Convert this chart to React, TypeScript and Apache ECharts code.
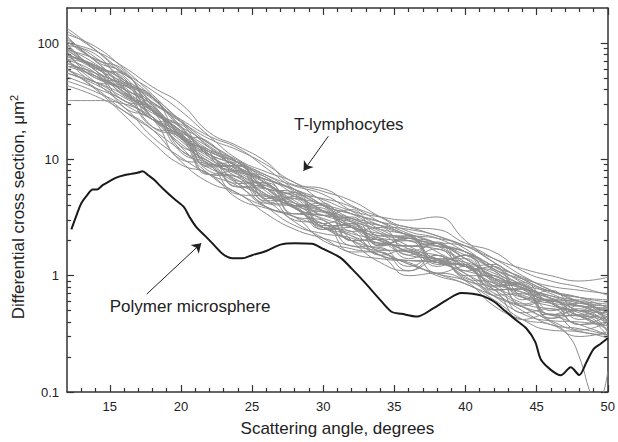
import React, { useEffect, useRef } from 'react';
import * as echarts from 'echarts';

const FONT = '"Liberation Sans", Arial, sans-serif';

// Scattering angles (degrees) sampled for the T-lymphocyte curves
const ANGLES = [12, 14, 16, 18, 20, 22, 24, 26, 28, 30, 32, 34, 36, 38, 40, 42, 44, 46, 48, 50];

// T-lymphocytes: differential cross section (µm²) for each cell
const T_CELLS: number[][] = [
  [103, 72, 58, 26, 19, 8.6, 8.8, 5.6, 5.2, 2.7, 2.7, 1.8, 2.2, 1.4, 1.4, 0.82, 0.88, 0.6, 0.62, 0.4],
  [55, 46, 36, 26, 19, 13.6, 9.4, 5.6, 3.8, 3.3, 3.1, 2.7, 2.2, 1.6, 1.2, 0.86, 0.72, 0.64, 0.45, 0.35],
  [126, 87, 56, 39, 26, 15.8, 10, 7.8, 6.3, 4.3, 3.1, 2.7, 2.5, 2.2, 1.7, 1.14, 0.94, 0.81, 0.75, 0.70],
  [47, 38, 28, 15.6, 10.4, 7.4, 5.9, 3.9, 2.7, 2.3, 2.1, 1.6, 1.26, 1.04, 0.91, 0.71, 0.50, 0.38, 0.35, 0.31],
  [79, 64, 48, 34, 19, 10.5, 7.0, 5.6, 5.0, 4.6, 3.9, 2.9, 2.2, 1.8, 1.6, 1.2, 0.86, 0.58, 0.45, 0.44],
  [32, 32, 30, 22, 14.4, 8.9, 6.2, 4.8, 3.8, 2.6, 2.0, 1.7, 1.6, 1.5, 1.2, 0.81, 0.58, 0.52, 0.5, 0.40],
  [134, 87, 52, 31, 21, 12.6, 8.6, 6.7, 5.5, 4.0, 2.9, 2.1, 2.0, 1.9, 1.4, 0.95, 0.65, 0.55, 0.5, 0.48],
  [71, 55, 28, 22, 10, 9.0, 5.8, 5.6, 3.2, 3.0, 1.8, 1.75, 1.2, 1.5, 0.95, 0.86, 0.48, 0.52, 0.38, 0.4],
  [95, 58, 36, 26, 17.6, 10.5, 6.2, 3.9, 3.4, 3.3, 2.9, 2.1, 1.6, 1.3, 1.1, 0.95, 0.79, 0.58, 0.45, 0.37],
  [63, 52, 40, 29, 16, 9.5, 7.8, 6.7, 5.5, 4.0, 2.6, 1.9, 1.8, 1.9, 1.8, 1.4, 1.0, 0.75, 0.6, 0.48],
  [87, 62, 50, 23, 15.5, 7.4, 8.0, 4.9, 4.6, 2.5, 2.6, 1.85, 2.1, 1.3, 1.25, 0.68, 0.7, 0.46, 0.5, 0.33],
  [59, 46, 34, 25, 17.6, 12.6, 8.6, 5.3, 3.8, 3.1, 2.6, 2.3, 2.1, 1.8, 1.3, 0.90, 0.72, 0.61, 0.55, 0.53],
  [111, 70, 44, 31, 22, 15.8, 12.5, 8.4, 5.5, 4.0, 3.4, 2.9, 2.3, 1.9, 1.6, 1.2, 0.97, 0.75, 0.6, 0.55],
  [75, 64, 37, 26, 11.5, 9.0, 5.0, 4.8, 3.0, 2.8, 1.6, 1.6, 1.1, 1.35, 0.92, 0.76, 0.42, 0.47, 0.34, 0.4],
  [87, 58, 38, 27, 16, 11.6, 9.4, 6.2, 4.2, 3.6, 3.1, 2.4, 1.8, 1.4, 1.2, 1.0, 0.79, 0.67, 0.55, 0.46],
  [67, 55, 44, 33, 19.2, 11, 7.4, 5.0, 4.2, 3.6, 2.7, 2.0, 1.5, 1.4, 1.3, 1.05, 0.83, 0.64, 0.5, 0.42],
  [99, 58, 41, 19, 15.5, 8.8, 8.8, 4.4, 3.9, 2.5, 2.8, 1.9, 2.0, 1.25, 1.25, 0.76, 0.76, 0.46, 0.45, 0.3],
  [79, 61, 40, 26, 17.6, 12, 8.6, 6.7, 5.5, 4.5, 3.6, 3.2, 3.0, 3.2, 2.0, 1.3, 0.94, 0.73, 0.65, 0.59],
  [51, 41, 32, 22, 12.8, 7.4, 5.1, 3.9, 3.2, 2.6, 2.0, 1.5, 1.35, 1.3, 0.98, 0.67, 0.54, 0.46, 0.38, 0.31],
  [118, 93, 60, 36, 21, 13, 9.4, 7.3, 5.9, 5.0, 3.6, 2.7, 2.25, 2.1, 1.8, 1.3, 0.94, 0.73, 0.65, 0.62],
  [83, 60, 54, 26, 17, 7.9, 7.0, 4.2, 4.8, 3.3, 3.7, 2.2, 2.2, 1.3, 1.5, 0.92, 0.82, 0.46, 0.55, 0.4],
  [71, 46, 30, 22, 16, 12, 9.8, 6.4, 4.2, 3.0, 2.2, 1.9, 1.8, 1.7, 1.24, 0.81, 0.65, 0.58, 0.55, 0.51],
  [95, 80, 46, 35, 15.5, 11.5, 5.8, 6.0, 4.0, 4.0, 2.0, 2.05, 1.4, 1.7, 1.2, 1.25, 0.66, 0.6, 0.38, 0.45],
  [55, 44, 32, 23, 15.2, 10.5, 8.2, 6.2, 4.4, 3.3, 2.9, 2.5, 2.25, 1.9, 1.4, 1.0, 0.83, 0.73, 0.65, 0.53],
  [91, 61, 46, 34, 21.6, 13.6, 9.4, 6.2, 4.8, 4.1, 3.4, 2.5, 2.0, 1.8, 1.6, 1.1, 0.79, 0.67, 0.6, 0.48],
  [43, 35, 26, 18, 9.6, 6.3, 5.1, 3.4, 2.5, 2.1, 1.8, 1.6, 1.26, 1.04, 0.85, 0.67, 0.54, 0.41, 0.33, 0.31],
  [107, 75, 48, 27, 16, 11, 9.0, 7.0, 5.0, 3.6, 2.6, 2.0, 1.8, 1.8, 1.5, 1.14, 0.9, 0.7, 0.58, 0.55],
  [71, 50, 38, 19, 16.5, 9.2, 8.4, 4.2, 3.9, 2.6, 2.8, 1.65, 1.65, 1.05, 1.2, 0.75, 0.78, 0.43, 0.46, 0.33],
  [79, 64, 48, 29, 16, 11.6, 9.4, 7.3, 5.3, 4.0, 3.4, 2.9, 2.6, 2.2, 1.8, 1.4, 1.15, 1.0, 0.9, 0.97],
  [67, 52, 40, 30, 21, 15, 12, 9.0, 6.3, 5.3, 4.4, 3.2, 2.4, 2.1, 1.6, 1.14, 0.83, 0.64, 0.6, 0.57],
  [59, 41, 26, 18, 12, 8.4, 6.6, 4.5, 2.9, 2.1, 1.56, 1.4, 1.35, 1.36, 1.04, 0.67, 0.47, 0.41, 0.4, 0.37],
  [103, 70, 40, 23, 15.2, 11, 8.6, 5.6, 4.0, 3.5, 3.0, 2.3, 1.7, 1.36, 1.2, 0.95, 0.76, 0.58, 0.48, 0.4],
  [63, 55, 32, 28, 12, 9.6, 6.2, 6.3, 4.0, 3.8, 2.0, 2.05, 1.5, 1.95, 1.2, 1.1, 0.57, 0.63, 0.46, 0.54],
  [87, 73, 54, 34, 18.4, 11, 7.8, 5.9, 4.8, 3.6, 2.6, 2.2, 2.1, 1.9, 1.4, 0.95, 0.68, 0.61, 0.55, 0.44],
  [75, 46, 43, 23, 16.5, 7.4, 7.1, 4.4, 4.6, 2.6, 2.4, 1.5, 1.7, 1.2, 1.5, 0.88, 0.78, 0.43, 0.52, 0.37],
  [60, 40, 24, 14, 9.0, 7.5, 4.6, 3.8, 3.2, 2.0, 1.7, 1.5, 1.0, 1.05, 0.9, 0.55, 0.42, 0.38, 0.30, 0.33],
  [100, 85, 62, 42, 30, 17, 13, 9.5, 6.0, 5.6, 4.0, 3.2, 2.6, 2.5, 1.9, 1.6, 1.1, 0.9, 0.8, 0.68],
  [85, 50, 45, 22, 20, 9.0, 9.5, 4.6, 5.2, 2.8, 3.2, 1.8, 2.1, 1.3, 1.5, 0.8, 0.85, 0.5, 0.58, 0.4],
  [72, 62, 35, 28, 13, 11, 6.5, 6.2, 3.4, 3.6, 2.0, 1.3, 1.1, 1.5, 1.0, 1.0, 0.55, 0.62, 0.42, 0.5],
  [115, 70, 55, 30, 17, 14, 8.0, 7.0, 4.0, 4.2, 2.4, 2.6, 1.6, 1.9, 1.1, 1.2, 0.62, 0.75, 0.5, 0.52],
  [90, 66, 42, 27, 15, 10, 7.6, 5.0, 3.8, 2.6, 2.2, 1.5, 1.3, 1.0, 0.85, 0.62, 0.42, 0.34, 0.33, 0.29],
];

// One T-lymphocyte curve that dips below the axis near 49°
const DIVE_ANGLES = [12, 14, 16, 18, 20, 22, 24, 26, 28, 30, 32, 34, 36, 38, 40, 42, 44, 46, 47.2, 48, 48.75, 49.2, 49.6, 50];
const DIVE_VALUES = [79, 52, 38, 23, 13.6, 9.5, 7.4, 5.6, 3.8, 2.8, 2.3, 2.0, 1.6, 1.36, 1.04, 0.76, 0.54, 0.4, 0.31, 0.2, 0.1, 0.075, 0.09, 0.15];

// Polymer microsphere
const SPHERE_ANGLES = [12.3, 12.7, 13.0, 13.4, 13.8, 14.1, 14.5, 15.0, 15.5, 16.0, 16.5, 17.0, 17.3, 17.7, 18.1, 18.8, 19.5, 20.2, 20.6, 21.1, 21.7, 22.3, 22.9, 23.5, 24.3, 25.0, 26.0, 27.0, 28.0, 29.2, 30.0, 31.2, 32.0, 32.9, 34.0, 34.8, 35.5, 36.6, 37.7, 38.7, 39.7, 40.5, 41.2, 42.0, 42.6, 43.5, 44.3, 44.9, 45.3, 46.0, 46.7, 47.4, 48.0, 48.5, 49.0, 49.5, 50.0];
const SPHERE_VALUES = [2.5, 3.4, 4.2, 4.9, 5.5, 5.5, 6.0, 6.5, 7.0, 7.3, 7.5, 7.7, 7.9, 7.3, 6.7, 5.5, 4.6, 3.9, 3.2, 2.6, 2.2, 1.85, 1.55, 1.42, 1.41, 1.5, 1.63, 1.85, 1.9, 1.88, 1.7, 1.43, 1.15, 0.88, 0.62, 0.49, 0.47, 0.445, 0.52, 0.62, 0.71, 0.70, 0.67, 0.6, 0.52, 0.42, 0.35, 0.27, 0.19, 0.155, 0.139, 0.163, 0.14, 0.18, 0.234, 0.26, 0.29];

// Tick values
const X_LABELS = [15, 20, 25, 30, 35, 40, 45, 50];
const X_MINOR = [13, 14, 16, 17, 18, 19, 21, 22, 23, 24, 26, 27, 28, 29, 31, 32, 33, 34, 36, 37, 38, 39, 41, 42, 43, 44, 46, 47, 48, 49];
const Y_LABELS = [0.1, 1, 10, 100];
const Y_MINOR = [0.2, 0.3, 0.4, 0.5, 0.6, 0.7, 0.8, 0.9, 2, 3, 4, 5, 6, 7, 8, 9, 20, 30, 40, 50, 60, 70, 80, 90];

// Annotations (data coordinates)
const T_LABEL = { text: 'T-lymphocytes', at: [31.8, 20] };
const T_ARROW = [[30.36, 15.8], [28.62, 7.96]];
const P_LABEL = { text: 'Polymer microsphere', at: [15.0, 0.543] };
const P_ARROW = [[17.6, 0.695], [21.43, 1.9]];

const AXIS_COLOR = '#333';
const TEXT_COLOR = '#222';

function xAxisDef(position: 'top' | 'bottom', major: boolean, withLabels: boolean) {
  return {
    type: 'value',
    min: 12,
    max: 50,
    position,
    axisLine: { show: major, onZero: false, lineStyle: { color: AXIS_COLOR, width: 1.5 } },
    axisTick: {
      show: true,
      inside: true,
      length: major ? 7 : 4,
      customValues: major ? X_LABELS : X_MINOR,
      lineStyle: { color: AXIS_COLOR, width: 1.2 },
    },
    axisLabel: withLabels
      ? { show: true, customValues: X_LABELS, fontSize: 13, color: TEXT_COLOR, fontFamily: FONT, margin: 8 }
      : { show: false },
    splitLine: { show: false },
    ...(withLabels
      ? {
          name: 'Scattering angle, degrees',
          nameLocation: 'middle',
          nameGap: 28,
          nameTextStyle: { fontSize: 17, color: TEXT_COLOR, fontFamily: FONT },
        }
      : {}),
  };
}

function yAxisDef(position: 'left' | 'right', major: boolean, withLabels: boolean) {
  return {
    type: 'log',
    logBase: 10,
    min: 0.1,
    max: 200,
    position,
    axisLine: { show: major, onZero: false, lineStyle: { color: AXIS_COLOR, width: 1.5 } },
    axisTick: {
      show: true,
      inside: true,
      length: major ? 7 : 4,
      customValues: major ? Y_LABELS : Y_MINOR,
      lineStyle: { color: AXIS_COLOR, width: 1.2 },
    },
    axisLabel: withLabels
      ? {
          show: true,
          customValues: Y_LABELS,
          fontSize: 13,
          color: TEXT_COLOR,
          fontFamily: FONT,
          margin: 8,
          formatter: (v: number) => String(v),
        }
      : { show: false },
    splitLine: { show: false },
    ...(withLabels
      ? {
          name: 'Differential cross section, μm{sup|2}',
          nameLocation: 'middle',
          nameGap: 31,
          nameTextStyle: {
            fontSize: 17,
            color: TEXT_COLOR,
            fontFamily: FONT,
            padding: [0, 14, 0, 0],
            rich: { sup: { fontSize: 11, color: TEXT_COLOR, fontFamily: FONT, padding: [0, 0, 9, 0] } },
          },
        }
      : {}),
  };
}

export default function App() {
  const ref = useRef<HTMLDivElement>(null);

  useEffect(() => {
    if (!ref.current) return;
    const chart = echarts.init(ref.current, undefined, { renderer: 'svg' });

    const grayLine = { color: '#8c8c8c', width: 1 };
    const graySeries: any[] = T_CELLS.map((row, k) => ({
      name: 'T-lymphocyte ' + (k + 1),
      type: 'line',
      data: ANGLES.map((a, i) => [a, row[i]]),
      smooth: 0.5,
      symbol: 'none',
      silent: true,
      z: 2,
      lineStyle: grayLine,
    }));
    graySeries.push({
      name: 'T-lymphocyte dip',
      type: 'line',
      data: DIVE_ANGLES.map((a, i) => [a, DIVE_VALUES[i]]),
      smooth: 0.5,
      symbol: 'none',
      silent: true,
      z: 2,
      lineStyle: grayLine,
    });

    const option: any = {
      animation: false,
      backgroundColor: '#fff',
      grid: { left: 62, right: 8, top: 8, bottom: 48, containLabel: false },
      xAxis: [
        xAxisDef('bottom', true, true),
        xAxisDef('bottom', false, false),
        xAxisDef('top', true, false),
        xAxisDef('top', false, false),
      ],
      yAxis: [
        yAxisDef('left', true, true),
        yAxisDef('left', false, false),
        yAxisDef('right', true, false),
        yAxisDef('right', false, false),
      ],
      series: [
        ...graySeries,
        {
          name: 'Polymer microsphere',
          type: 'line',
          data: SPHERE_ANGLES.map((a, i) => [a, SPHERE_VALUES[i]]),
          smooth: 0.3,
          symbol: 'none',
          silent: true,
          z: 3,
          lineStyle: { color: '#1a1a1a', width: 2 },
          markLine: {
            silent: true,
            symbol: ['none', 'arrow'],
            symbolSize: 9,
            label: { show: false },
            lineStyle: { color: '#222', width: 1, type: 'solid' },
            data: [
              [{ coord: T_ARROW[0] }, { coord: T_ARROW[1] }],
              [{ coord: P_ARROW[0] }, { coord: P_ARROW[1] }],
            ],
          },
        },
      ],
    };
    chart.setOption(option);

    const pT = chart.convertToPixel({ gridIndex: 0 } as any, T_LABEL.at) as number[];
    const pP = chart.convertToPixel({ gridIndex: 0 } as any, P_LABEL.at) as number[];
    chart.setOption({
      graphic: [
        {
          type: 'text',
          x: pT[0],
          y: pT[1],
          silent: true,
          style: { text: T_LABEL.text, fill: TEXT_COLOR, fontSize: 17, fontFamily: FONT, align: 'center', verticalAlign: 'middle' },
        },
        {
          type: 'text',
          x: pP[0],
          y: pP[1],
          silent: true,
          style: { text: P_LABEL.text, fill: TEXT_COLOR, fontSize: 17, fontFamily: FONT, align: 'left', verticalAlign: 'middle' },
        },
      ],
    });

    return () => chart.dispose();
  }, []);

  return <div ref={ref} style={{ position: 'absolute', left: 0, top: 0, width: 618, height: 442 }} />;
}
